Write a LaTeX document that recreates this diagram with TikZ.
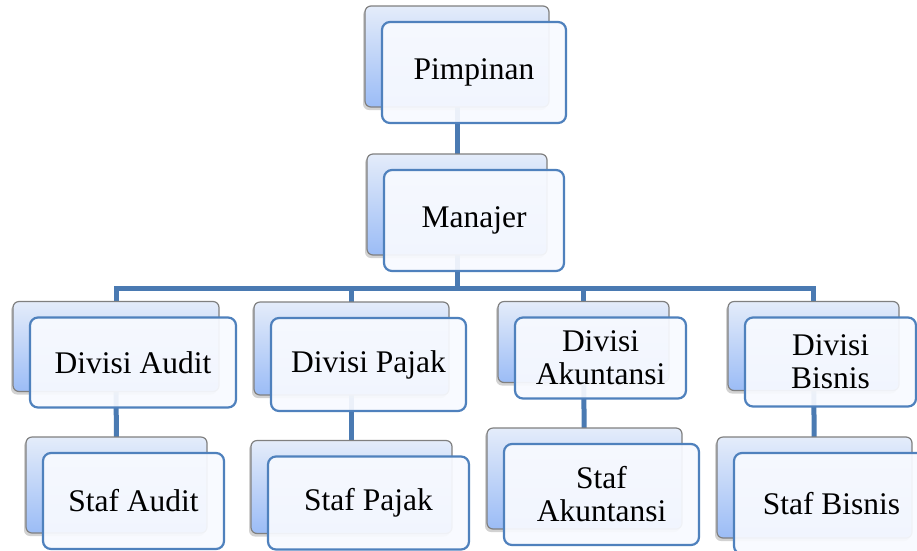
\documentclass[tikz,border=0pt]{standalone}
\usepackage{fontspec}
\setmainfont{Liberation Serif}
\usetikzlibrary{shadows,backgrounds,calc}
\definecolor{backtop}{RGB}{228,236,250}
\definecolor{backbot}{RGB}{155,188,246}
\definecolor{backline}{RGB}{128,128,128}
\definecolor{frontline}{RGB}{79,129,189}
\definecolor{frontfill}{RGB}{248,250,255}
\definecolor{conn}{RGB}{74,122,178}
\tikzset{
  backbox/.style={rectangle, rounded corners=6pt, draw=backline, line width=1.2pt,
    top color=backtop, bottom color=backbot,
    drop shadow={shadow xshift=-2pt, shadow yshift=-3pt, opacity=0.35}},
  frontbox/.style={rectangle, rounded corners=8pt, draw=frontline, line width=2.2pt,
    fill=frontfill, fill opacity=0.93, text opacity=1, align=center,
    font=\fontsize{31.5}{33}\selectfont},
  connector/.style={draw=conn, line width=5pt}
}
\newcommand{\orgunit}[6]{%
  \node[backbox, minimum width=#4pt, minimum height=#5pt] (#1B) at (#2,#3) {};
  \node[frontbox, minimum width=#4pt, minimum height=#5pt] (#1) at ($(#1B.center)+(17,16)$) {#6};
}
\begin{document}
\begin{tikzpicture}[x=1pt,y=-1pt]
\useasboundingbox (0,0) rectangle (917,550);
\orgunit{pim}{457}{56.5}{184}{101}{Pimpinan}
\orgunit{man}{457}{204.5}{180}{101}{Manajer}
\orgunit{daud}{116}{346.5}{206}{90}{Divisi Audit}
\orgunit{dpaj}{351.5}{348.5}{195}{93}{Divisi Pajak}
\orgunit{dakt}{583.5}{342}{171}{81}{Divisi\\Akuntansi}
\orgunit{dbis}{813.5}{346}{171}{89}{Divisi\\Bisnis}
\orgunit{saud}{116.5}{485}{181}{96}{Staf Audit}
\orgunit{spaj}{351.5}{487}{201}{93}{Staf Pajak}
\orgunit{sakt}{584.5}{478.5}{195}{101}{Staf\\Akuntansi}
\orgunit{sbis}{814.5}{487.5}{195}{101}{Staf Bisnis}
\coordinate (bar) at (457,288);
\begin{pgfonlayer}{background}
\fill[white] (0,0) rectangle (917,550);
\draw[connector] (pimB.center) -- (manB.center);
\draw[connector] (manB.center) -- (bar);
\draw[connector] (bar) -| (daudB.center);
\draw[connector] (bar) -| (dpajB.center);
\draw[connector] (bar) -| (daktB.center);
\draw[connector] (bar) -| (dbisB.center);
\draw[connector] (daudB.center) -- (saudB.center);
\draw[connector] (dpajB.center) -- (spajB.center);
\draw[connector] (daktB.center) -- (saktB.center);
\draw[connector] (dbisB.center) -- (sbisB.center);
\end{pgfonlayer}
\end{tikzpicture}
\end{document}
